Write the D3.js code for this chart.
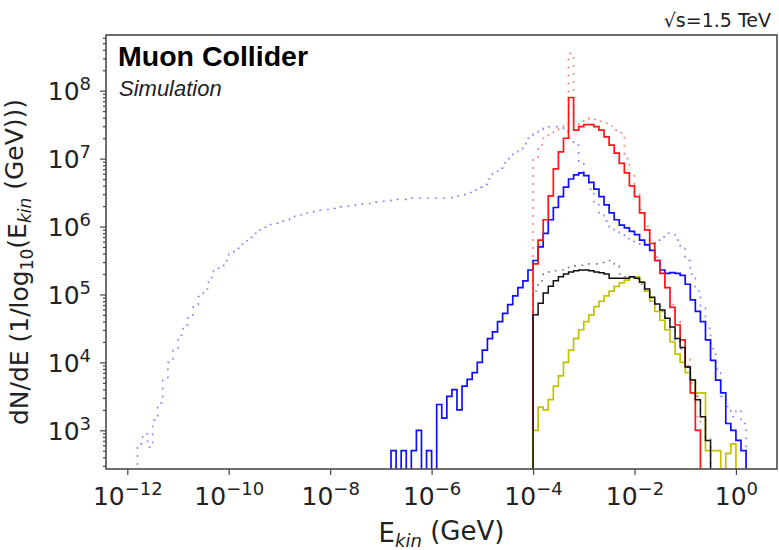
<!doctype html>
<html>
<head>
    <meta charset="utf-8">
    <title>Ekin spectrum</title>
    <style>
        body {
            margin: 0;
            background: #FFFFFF;
        }

        svg text {
            font-family: "DejaVu Sans", sans-serif;
            fill: #222222;
        }

        .axis .tick line {
            stroke: #444444;
            stroke-width: 1.2;
        }

        .axis path.domain {
            display: none;
        }

        path.hist {
            fill: none;
        }
    </style>
</head>
<body>
    <div id="chart"></div>

    <script src="https://d3js.org/d3.v7.min.js"></script>
    <script>
        var svg_width = 779;
        var svg_height = 550;

        // histogram bins are 0.1 wide in log10(E/GeV); values are log10(dN/dE), null = empty bin
        var bin_width = 0.1;

        var blue_dotted_start = -11.8;
        var blue_dotted = [
            2.8, 2.95, 2.75, 3.15, 3.4, 3.75, 4.0, 4.2, 4.4, 4.55,
            4.7, 4.85, 4.97, 5.08, 5.25, 5.35, 5.42, 5.5, 5.62, 5.68,
            5.74, 5.79, 5.84, 5.9, 5.95, 5.99, 6.03, 6.05, 6.08, 6.1,
            6.13, 6.15, 6.17, 6.2, 6.22, 6.23, 6.24, 6.25, 6.27, 6.28,
            6.29, 6.3, 6.31, 6.32, 6.33, 6.34, 6.35, 6.36, 6.37, 6.38,
            6.39, 6.4, 6.4, 6.41, 6.42, 6.42, 6.42, 6.42, 6.42, 6.42,
            6.42, 6.42, 6.43, 6.45, 6.47, 6.5, 6.54, 6.58, 6.62, 6.7,
            6.78, 6.86, 6.94, 7.0, 7.08, 7.15, 7.22, 7.3, 7.36, 7.42,
            7.45, 7.47, 7.47, 7.45, 7.4, 7.3, 7.2, 6.95, 6.75, 6.55,
            6.35, 6.2, 6.08, 5.98, 5.92, 5.88, 5.82, 5.78, 5.75, 5.74,
            5.74, 5.76, 5.8, 5.85, 5.9, 5.88, 5.8, 5.7, 5.5, 5.3,
            5.05, 4.8, 4.5, 4.2, 3.9, 3.5, 3.35, 3.2, 3.3, 3.1
        ];

        var blue_solid_start = -6.8;
        var blue_solid = [
            2.7, null, 2.7, null, 2.7, 3.0, null, 2.7, null, 3.38,
            3.18, 3.5, 3.6, 3.3, 3.65, 3.75, 3.85, 4.0, 4.18, 4.35,
            4.45, 4.6, 4.72, 4.85, 4.98, 5.1, 5.2, 5.36, 5.5, 5.7,
            5.9, 6.1, 6.28, 6.44, 6.58, 6.7, 6.76, 6.79, 6.75, 6.65,
            6.55, 6.44, 6.32, 6.2, 6.1, 6.02, 5.98, 5.93, 5.88, 5.8,
            5.73, 5.65, 5.5, 5.36, 5.31, 5.32, 5.31, 5.28, 5.15, 4.92,
            4.75, 4.6, 4.33, 4.03, 3.74, 3.55, 3.1, 3.0, 2.85, 2.7
        ];

        var red_dotted_start = -4.0;
        var red_dotted = [
            7.0, 7.2, 7.3, 7.38, 7.42, 7.45, 7.48, 8.55, 7.5, 7.55,
            7.58, 7.6, 7.58, 7.55, 7.52, 7.48, 7.42, 7.38, 7.0, 6.75,
            6.5, 6.25, 6.0, 5.8, 5.55, 5.35, 5.1, 4.85, 4.6, 4.35,
            4.05, 3.7, 3.2
        ];

        var red_solid_start = -4.0;
        var red_solid = [
            5.45, 5.8, 6.1, 6.45, 6.85, 7.1, 7.3, 7.9, 7.42, 7.47,
            7.5, 7.5, 7.47, 7.42, 7.32, 7.2, 7.08, 6.93, 6.79, 6.6,
            6.44, 6.2, 5.95, 5.75, 5.5, 5.31, 5.1, 4.81, 4.55, 4.33,
            3.93, 3.55, 3.0
        ];

        var gray_dotted_start = -4.0;
        var gray_dotted = [
            5.05, 5.2, 5.32, 5.33, 5.35, 5.36, 5.38, 5.4, 5.42, 5.43,
            5.45, 5.45, 5.45, 5.47, 5.5, 5.5, 5.42, 5.3, 5.26, 5.25,
            5.22, 5.15, 5.05, 4.95, 4.85, 4.75, 4.62, 4.5, 4.33, 4.2,
            3.95, 3.75, 3.5, 3.2, 2.9
        ];

        var black_solid_start = -4.0;
        var black_solid = [
            4.7, 4.87, 5.02, 5.12, 5.2, 5.26, 5.3, 5.33, 5.35, 5.36,
            5.36, 5.35, 5.33, 5.32, 5.3, 5.24, 5.24, 5.24, 5.24, 5.26,
            5.24, 5.18, 5.08, 4.96, 4.86, 4.77, 4.65, 4.52, 4.35, 4.22,
            3.93, 3.74, 3.45, 3.2, 2.85
        ];

        var yellow_solid_start = -4.0;
        var yellow_solid = [
            3.0, 3.34, 3.3, 3.45, 3.65, 3.8, 4.0, 4.18, 4.35, 4.48,
            4.6, 4.7, 4.82, 4.9, 4.98, 5.05, 5.12, 5.17, 5.21, 5.25,
            5.26, 5.18, 5.05, 4.9, 4.75, 4.62, 4.48, 4.3, 4.12, 4.0,
            3.85, 3.74, 3.55, 3.55, 2.7, 2.7, 2.7, null, 2.66, 2.8
        ];

        var x_tick_exponents = [-12, -10, -8, -6, -4, -2, 0];
        var y_tick_exponents = [3, 4, 5, 6, 7, 8];

        var margin = {left: 106, top: 35, right: 777, bottom: 469};

        var x = d3.scaleLog()
            .domain([Math.pow(10, -12.42), Math.pow(10, 0.81)])
            .range([margin.left, margin.right]);

        var y = d3.scaleLog()
            .domain([Math.pow(10, 2.43), Math.pow(10, 8.82)])
            .range([margin.bottom, margin.top]);

        var svg = d3.select('#chart').append('svg')
            .attr('width', svg_width)
            .attr('height', svg_height);

        svg.append('clipPath')
            .attr('id', 'plot-clip')
          .append('rect')
            .attr('x', margin.left)
            .attr('y', margin.top)
            .attr('width', margin.right - margin.left)
            .attr('height', margin.bottom - margin.top);

        var series = [
            {start: blue_dotted_start, values: blue_dotted, color: '#8c8cff', dash: '2,6', width: 1.6},
            {start: red_dotted_start, values: red_dotted, color: '#ff8585', dash: '2,6', width: 1.6},
            {start: gray_dotted_start, values: gray_dotted, color: '#8a8a8a', dash: '2,6', width: 1.6},
            {start: blue_solid_start, values: blue_solid, color: '#0f0fff', dash: null, width: 1.7},
            {start: red_solid_start, values: red_solid, color: '#ff1414', dash: null, width: 1.7},
            {start: yellow_solid_start, values: yellow_solid, color: '#c2c200', dash: null, width: 1.7},
            {start: black_solid_start, values: black_solid, color: '#111111', dash: null, width: 1.5}
        ];

        function step_points(s) {
            // outline of a step histogram, starting and ending on the baseline
            var pts = [[s.start, null]];
            s.values.forEach(function(v, i) {
                var lo = s.start + i * bin_width;
                pts.push([lo, v]);
                pts.push([lo + bin_width, v]);
            });
            pts.push([s.start + s.values.length * bin_width, null]);
            return pts;
        }

        var line = d3.line()
            .x(function(d) { return x(Math.pow(10, d[0])); })
            .y(function(d) { return d[1] === null ? margin.bottom + 4 : y(Math.pow(10, d[1])); });

        svg.append('g')
            .attr('clip-path', 'url(#plot-clip)')
          .selectAll('path.hist')
            .data(series)
          .enter().append('path')
            .attr('class', 'hist')
            .attr('d', function(d) { return line(step_points(d)); })
            .attr('stroke', function(d) { return d.color; })
            .attr('stroke-width', function(d) { return d.width; })
            .attr('stroke-dasharray', function(d) { return d.dash; })
            .attr('stroke-linejoin', 'miter');

        function sup(n) {
            return n < 0 ? '\u2212' + Math.abs(n) : String(n);
        }

        // x axis
        var x_axis = svg.append('g')
            .attr('class', 'axis')
            .attr('transform', 'translate(0,' + margin.bottom + ')')
            .call(d3.axisBottom(x)
                .tickValues(x_tick_exponents.map(function(e) { return Math.pow(10, e); }))
                .tickSize(6)
                .tickSizeOuter(0)
                .tickFormat(''));

        x_axis.selectAll('.tick text').remove();
        x_axis.selectAll('.tick').each(function(d, i) {
            var t = d3.select(this).append('text')
                .attr('y', 36)
                .attr('text-anchor', 'middle')
                .style('font-size', '25px');
            t.append('tspan').text('10');
            t.append('tspan')
                .attr('dy', '-0.55em')
                .style('font-size', '18px')
                .text(sup(x_tick_exponents[i]));
        });

        // y axis, minor ticks first
        var minor = [];
        for (var k = 2; k <= 8; k++) {
            for (var m = 2; m <= 9; m++) {
                var v = m * Math.pow(10, k);
                if (v > y.domain()[0] && v < y.domain()[1]) minor.push(v);
            }
        }

        svg.append('g')
            .attr('class', 'axis')
            .attr('transform', 'translate(' + margin.left + ',0)')
            .call(d3.axisLeft(y).tickValues(minor).tickSize(3).tickSizeOuter(0).tickFormat(''));

        var y_axis = svg.append('g')
            .attr('class', 'axis')
            .attr('transform', 'translate(' + margin.left + ',0)')
            .call(d3.axisLeft(y)
                .tickValues(y_tick_exponents.map(function(e) { return Math.pow(10, e); }))
                .tickSize(6)
                .tickSizeOuter(0)
                .tickFormat(''));

        y_axis.selectAll('.tick text').remove();
        y_axis.selectAll('.tick').each(function(d, i) {
            var t = d3.select(this).append('text')
                .attr('x', -15)
                .attr('dy', '0.36em')
                .attr('text-anchor', 'end')
                .style('font-size', '25px');
            t.append('tspan').text('10');
            t.append('tspan')
                .attr('dy', '-0.55em')
                .style('font-size', '18px')
                .text(sup(y_tick_exponents[i]));
        });

        // frame
        svg.append('rect')
            .attr('x', margin.left)
            .attr('y', margin.top)
            .attr('width', margin.right - margin.left)
            .attr('height', margin.bottom - margin.top)
            .attr('fill', 'none')
            .attr('stroke', '#4a4a4a')
            .attr('stroke-width', 1.6);

        // axis titles
        var xl = svg.append('text')
            .attr('x', (margin.left + margin.right) / 2)
            .attr('y', 542)
            .attr('text-anchor', 'middle')
            .style('font-size', '26px');
        xl.append('tspan').text('E');
        xl.append('tspan').attr('dy', '0.3em').style('font-size', '18px').style('font-style', 'italic').text('kin');
        xl.append('tspan').attr('dy', '-0.3em').text(' (GeV)');

        var yl = svg.append('text')
            .attr('transform', 'translate(28,' + ((margin.top + margin.bottom) / 2 + 10) + ') rotate(-90)')
            .attr('text-anchor', 'middle')
            .style('font-size', '25px');
        yl.append('tspan').text('dN/dE (1/log');
        yl.append('tspan').attr('dy', '0.3em').style('font-size', '17px').text('10');
        yl.append('tspan').attr('dy', '-0.3em').text('(E');
        yl.append('tspan').attr('dy', '0.3em').style('font-size', '17px').style('font-style', 'italic').text('kin');
        yl.append('tspan').attr('dy', '-0.3em').text(' (GeV)))');

        // labels inside / above the frame
        svg.append('text')
            .attr('x', 118)
            .attr('y', 66)
            .style('font-family', '"Liberation Sans", Arial, sans-serif')
            .style('font-weight', 'bold')
            .style('font-size', '28.5px')
            .style('fill', '#000000')
            .text('Muon Collider');

        svg.append('text')
            .attr('x', 119)
            .attr('y', 96)
            .style('font-family', '"Liberation Sans", Arial, sans-serif')
            .style('font-style', 'italic')
            .style('font-size', '22px')
            .text('Simulation');

        svg.append('text')
            .attr('x', 771)
            .attr('y', 27)
            .attr('text-anchor', 'end')
            .style('font-size', '19px')
            .text('\u221As=1.5 TeV');
    </script>
</body>
</html>
